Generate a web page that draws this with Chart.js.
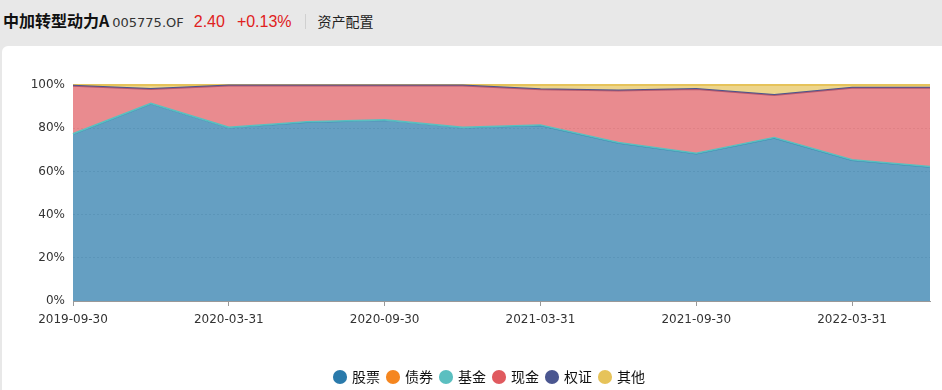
<!DOCTYPE html>
<html>
<head>
<meta charset="utf-8">
<script src="https://cdn.jsdelivr.net/npm/chart.js@4.4.1/dist/chart.umd.min.js"></script>
<style>
  html, body { margin: 0; padding: 0; }
  body { width: 942px; height: 390px; background: #e8e8e8; position: relative; overflow: hidden; font-family: "Noto Sans CJK SC", "Noto Sans", sans-serif; }
  .head { position: absolute; left: 3px; top: 8px; white-space: nowrap; }
  .head span { display: inline-block; vertical-align: baseline; }
  .name { font-size: 16px; font-weight: bold; color: #111; }
  .code { font-size: 13px; color: #333; margin-left: 3px; font-family: "DejaVu Sans", sans-serif; }
  .price { font-size: 16px; color: #e02020; margin-left: 10px; font-family: "Liberation Sans", sans-serif; }
  .chg { font-size: 16px; color: #e02020; margin-left: 12px; font-family: "Liberation Sans", sans-serif; }
  .sep { width: 1px; height: 15px; background: #d0d0d0; margin: 0 12px 0 13px; vertical-align: -2px !important; }
  .tab { font-size: 14px; color: #222; }
  .panel { position: absolute; left: 2px; top: 46px; width: 940px; height: 344px; background: #fff; border-radius: 6px 0 0 0; }
  .wrap { position: absolute; left: 0; top: 46px; width: 942px; height: 352px; }
</style>
</head>
<body>
<div class="head">
  <span class="name">中加转型动力A</span><span class="code">005775.OF</span><span class="price">2.40</span><span class="chg">+0.13%</span><span class="sep"></span><span class="tab">资产配置</span>
</div>
<div class="panel"></div>
<div class="wrap"><canvas id="c"></canvas></div>
<script>
const dates = ['2019-09-30', '2019-12-31', '2020-03-31', '2020-06-30', '2020-09-30', '2020-12-31',
  '2021-03-31', '2021-06-30', '2021-09-30', '2021-12-31', '2022-03-31', '2022-06-30'];
const seriesNames = ['股票', '债券', '基金', '现金', '权证', '其他'];
const stock = [77.0, 91.1, 80.0, 82.6, 83.5, 80.0, 81.1, 73.0, 68.0, 75.3, 65.0, 61.9];
const bond = [0, 0, 0, 0, 0, 0, 0, 0, 0, 0, 0, 0];
const fund = [0.3, 0.3, 0.3, 0.3, 0.3, 0.3, 0.3, 0.3, 0.3, 0.3, 0.3, 0.3];
const cash = [22.4, 6.8, 19.5, 16.9, 16.0, 19.5, 16.6, 24.2, 29.8, 19.8, 33.4, 36.5];
const warrant = [0, 0, 0, 0, 0, 0, 0, 0, 0, 0, 0, 0];
const other = [0.3, 1.8, 0.2, 0.2, 0.2, 0.2, 2.0, 2.5, 1.9, 4.6, 1.3, 1.3];
const yTicks = [0, 20, 40, 60, 80, 100];

const colors = ['#2a7aab', '#f5861f', '#5bbfc0', '#e05a5f', '#4a5690', '#e6c35a'];
const fills = ['rgba(42,122,171,0.72)', 'rgba(245,134,31,0.7)', 'rgba(91,191,192,0.7)',
  'rgba(224,90,95,0.7)', 'rgba(74,86,144,0.7)', 'rgba(230,195,90,0.7)'];
// stock and bond lines sit under the fund line, so only fund/warrant/other draw a stroke
const lineWidths = [0, 0, 2, 0, 2, 2];
const values = [stock, bond, fund, cash, warrant, other];

const datasets = values.map((v, i) => ({
  label: seriesNames[i],
  data: v,
  borderColor: colors[i],
  backgroundColor: fills[i],
  borderWidth: lineWidths[i],
  pointRadius: 0,
  tension: 0,
  clip: 3,
  fill: i === 0 ? 'origin' : '-1'
}));

// original legend sits a little right of the canvas centre
const legendShift = {
  id: 'legendShift',
  afterLayout(chart) {
    chart.legend.left += 25;
    chart.legend.right += 25;
  }
};

new Chart(document.getElementById('c'), {
  type: 'line',
  data: { labels: dates, datasets },
  plugins: [legendShift],
  options: {
    responsive: true,
    maintainAspectRatio: false,
    animation: false,
    layout: { padding: { top: 39, right: 12, left: 0, bottom: 4 } },
    plugins: {
      tooltip: { enabled: false },
      legend: {
        position: 'bottom',
        labels: {
          color: '#111',
          font: { size: 14, family: '"Noto Sans CJK SC", sans-serif' },
          usePointStyle: true,
          pointStyle: 'circle',
          boxWidth: 10,
          boxHeight: 10,
          padding: 8,
          generateLabels() {
            return seriesNames.map((n, i) => ({
              text: n, fillStyle: colors[i], strokeStyle: colors[i], lineWidth: 0,
              pointStyle: 'circle', datasetIndex: i, fontColor: '#111'
            }));
          }
        }
      }
    },
    scales: {
      x: {
        offset: false,
        border: { color: '#999' },
        grid: {
          drawOnChartArea: false,
          tickLength: 5,
          color: ctx => (ctx.index % 2 === 0 ? '#999' : 'rgba(0,0,0,0)')
        },
        ticks: {
          autoSkip: false,
          maxRotation: 0,
          color: '#333',
          padding: 7,
          font: { size: 12, family: '"DejaVu Sans", sans-serif' },
          callback(v, i) { return i % 2 === 0 ? dates[i] : ''; }
        },
        afterFit(scale) { scale.height = 61; }
      },
      y: {
        stacked: true,
        min: 0,
        max: 100,
        border: { display: false, dash: [2, 2] },
        grid: { color: '#dcdcdc', drawTicks: false },
        afterBuildTicks(scale) { scale.ticks = yTicks.map(v => ({ value: v })); },
        ticks: {
          color: '#333',
          padding: 8,
          font: { size: 12, family: '"DejaVu Sans", sans-serif' },
          callback(v) { return v + '%'; }
        },
        afterFit(scale) { scale.width = 73; }
      }
    }
  }
});
</script>
</body>
</html>
